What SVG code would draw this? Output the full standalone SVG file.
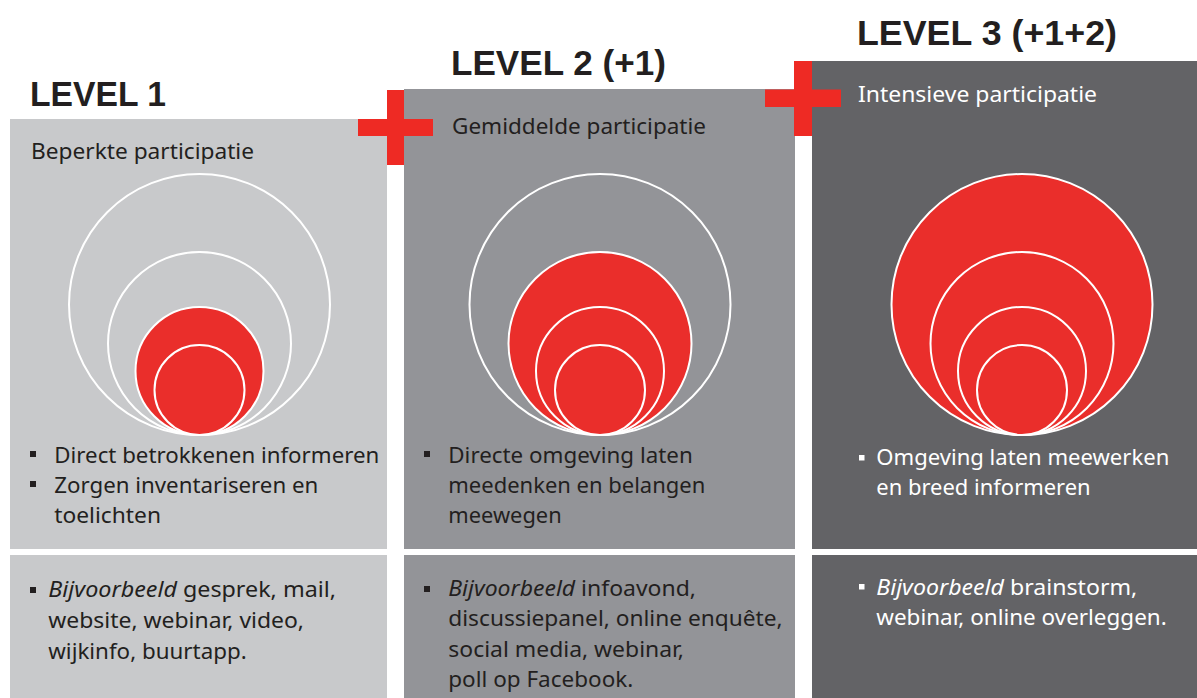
<svg xmlns="http://www.w3.org/2000/svg" width="1197" height="698" viewBox="0 0 1197 698">
<style>
.h{font-family:"Liberation Sans",Arial,sans-serif;font-weight:700;font-size:35px;fill:#231f20}
.t{font-family:"Noto Sans","Liberation Sans",sans-serif;font-size:21px}
.d{fill:#231f20}
.w{fill:#ffffff}
.i{font-style:italic}
.c{stroke:#ffffff;stroke-width:2}
.o{fill:none}
.r{fill:#ea2e2b}
.plus{fill:#ee2a24}
</style>
<rect width="1197" height="698" fill="#ffffff"/>

<g id="level1">
<rect x="10" y="119" width="377" height="430" fill="#c8c9cb"/>
<rect x="10" y="555" width="377" height="143" fill="#c8c9cb"/>
<text class="h" x="30" y="106" textLength="136" lengthAdjust="spacingAndGlyphs">LEVEL 1</text>
<text class="t d" x="31" y="159" textLength="223" lengthAdjust="spacingAndGlyphs">Beperkte participatie</text>
<circle class="c o" cx="199.5" cy="304.5" r="130.5"/>
<circle class="c o" cx="199.5" cy="343.5" r="91.5"/>
<circle class="c r" cx="199.5" cy="371" r="64"/>
<circle class="c r" cx="199.5" cy="390" r="45"/>
<rect class="d" x="30" y="451" width="6" height="6"/>
<rect class="d" x="30" y="481" width="6" height="6"/>
<text class="t d" x="54.3" y="463.3" textLength="325" lengthAdjust="spacingAndGlyphs">Direct betrokkenen informeren</text>
<text class="t d" x="54.3" y="493.3" textLength="264" lengthAdjust="spacingAndGlyphs">Zorgen inventariseren en</text>
<text class="t d" x="54.3" y="523.3" textLength="106.7" lengthAdjust="spacingAndGlyphs">toelichten</text>
<rect class="d" x="30" y="587" width="6" height="6"/>
<text class="t d" x="48.3" y="596.5" textLength="287.7" lengthAdjust="spacingAndGlyphs"><tspan class="i">Bijvoorbeeld</tspan> gesprek, mail,</text>
<text class="t d" x="48.3" y="627.5" textLength="255.7" lengthAdjust="spacingAndGlyphs">website, webinar, video,</text>
<text class="t d" x="48.3" y="658.5" textLength="198.4" lengthAdjust="spacingAndGlyphs">wijkinfo, buurtapp.</text>
</g>

<g id="level2">
<rect x="404" y="89" width="391" height="460" fill="#939498"/>
<rect x="404" y="555" width="391" height="143" fill="#939498"/>
<text class="h" x="451" y="75" textLength="215" lengthAdjust="spacingAndGlyphs">LEVEL 2 (+1)</text>
<text class="t d" x="452" y="134.3" textLength="254" lengthAdjust="spacingAndGlyphs">Gemiddelde participatie</text>
<circle class="c o" cx="600" cy="304.5" r="130.5"/>
<circle class="c r" cx="600" cy="343.5" r="91.5"/>
<circle class="c r" cx="600" cy="371" r="64"/>
<circle class="c r" cx="600" cy="390" r="45"/>
<rect class="d" x="424" y="451" width="6" height="6"/>
<text class="t d" x="448.3" y="463.3" textLength="244.4" lengthAdjust="spacingAndGlyphs">Directe omgeving laten</text>
<text class="t d" x="448.3" y="493.3" textLength="257" lengthAdjust="spacingAndGlyphs">meedenken en belangen</text>
<text class="t d" x="448.3" y="523.3" textLength="113.4" lengthAdjust="spacingAndGlyphs">meewegen</text>
<rect class="d" x="424" y="586" width="6" height="6"/>
<text class="t d" x="448.3" y="595.7" textLength="247.7" lengthAdjust="spacingAndGlyphs"><tspan class="i">Bijvoorbeeld</tspan> infoavond,</text>
<text class="t d" x="448.3" y="626" textLength="334.4" lengthAdjust="spacingAndGlyphs">discussiepanel, online enquête,</text>
<text class="t d" x="448.3" y="656.5" textLength="235.7" lengthAdjust="spacingAndGlyphs">social media, webinar,</text>
<text class="t d" x="448.3" y="687" textLength="185" lengthAdjust="spacingAndGlyphs">poll op Facebook.</text>
</g>

<g id="level3">
<rect x="812" y="61" width="385" height="488" fill="#636366"/>
<rect x="812" y="555" width="385" height="143" fill="#636366"/>
<text class="h" x="857" y="45" textLength="260" lengthAdjust="spacingAndGlyphs">LEVEL 3 (+1+2)</text>
<text class="t w" x="858" y="101.7" textLength="239" lengthAdjust="spacingAndGlyphs">Intensieve participatie</text>
<circle class="c r" cx="1022" cy="304.5" r="130.5"/>
<circle class="c r" cx="1022" cy="343.5" r="91.5"/>
<circle class="c r" cx="1022" cy="371" r="64"/>
<circle class="c r" cx="1022" cy="390" r="45"/>
<rect class="w" x="859" y="455" width="5.5" height="5.5"/>
<text class="t w" x="876.3" y="465" textLength="293" lengthAdjust="spacingAndGlyphs">Omgeving laten meewerken</text>
<text class="t w" x="876.3" y="495" textLength="214.4" lengthAdjust="spacingAndGlyphs">en breed informeren</text>
<rect class="w" x="859" y="584" width="5.5" height="5.5"/>
<text class="t w" x="876.3" y="595" textLength="261" lengthAdjust="spacingAndGlyphs"><tspan class="i">Bijvoorbeeld</tspan> brainstorm,</text>
<text class="t w" x="876.3" y="625" textLength="290.4" lengthAdjust="spacingAndGlyphs">webinar, online overleggen.</text>
</g>

<g id="plus1">
<rect class="plus" x="387" y="90" width="17" height="75"/>
<rect class="plus" x="358" y="119" width="75" height="17"/>
</g>
<g id="plus2">
<rect class="plus" x="794" y="61" width="18" height="75"/>
<rect class="plus" x="765" y="89.5" width="76" height="17.5"/>
</g>
</svg>
